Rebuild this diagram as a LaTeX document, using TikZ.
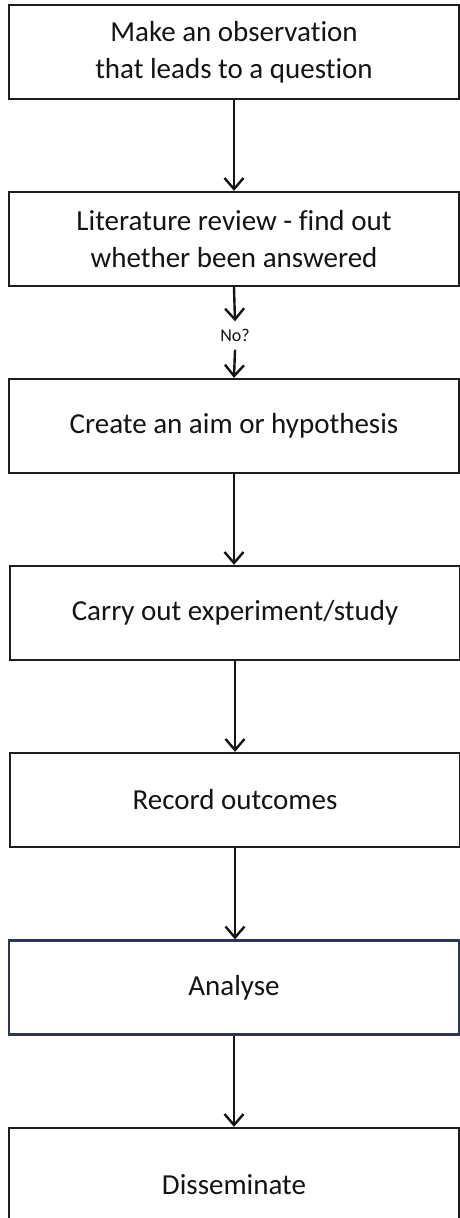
\documentclass[tikz,border=0pt]{standalone}
\usepackage{fontspec}
\setmainfont{Carlito}[Ligatures=NoCommon]
\usetikzlibrary{arrows.meta}
\definecolor{ink}{RGB}{20,20,20}
\definecolor{edge}{RGB}{30,30,30}
\definecolor{blueedge}{RGB}{45,55,85}
\tikzset{
  x=1pt, y=1pt,
  stepbox/.style={draw=edge, line width=2.3pt, minimum width=450pt, minimum height=94pt,
    inner sep=0pt, align=center, font=\fontsize{29}{37}\selectfont, text=ink},
  flow/.style={draw=ink, line width=2.4pt, -{Straight Barb[length=11pt,width=19pt]}},
  notext/.style={inner sep=0pt, minimum height=28pt, font=\fontsize{18}{22}\selectfont, text=ink}
}
\begin{document}
\begin{tikzpicture}
\useasboundingbox (0,0) rectangle (460,-1218);
\fill[white] (0,0) rectangle (460,-1218);
\node[stepbox] (b1) at (234,-52) {Make an observation\\that leads to a question};
\node[stepbox] (b2) at (234,-239) {Literature review - find out\\whether been answered};
\node[notext] (no) at (235,-335.5) {No?};
\node[stepbox] (b3) at (234,-426) {Create an aim or hypothesis};
\node[stepbox] (b4) at (235,-613) {Carry out experiment/study};
\node[stepbox] (b5) at (235,-800) {Record outcomes};
\node[stepbox, draw=blueedge] (b6) at (234,-987.5) {Analyse};
\node[stepbox, minimum height=114pt] (b7) at (234,-1185) {Disseminate};
\draw[flow] (b1.south) -- (b2.north);
\draw[flow] (b2.south) -- (no.north);
\draw[flow] (no.south) -- (b3.north);
\draw[flow] (b3.south) -- (b3.south |- b4.north);
\draw[flow] (b4.south) -- (b5.north);
\draw[flow] (b5.south) -- (b5.south |- b6.north);
\draw[flow] (b6.south) -- (b7.north);
\end{tikzpicture}
\end{document}
